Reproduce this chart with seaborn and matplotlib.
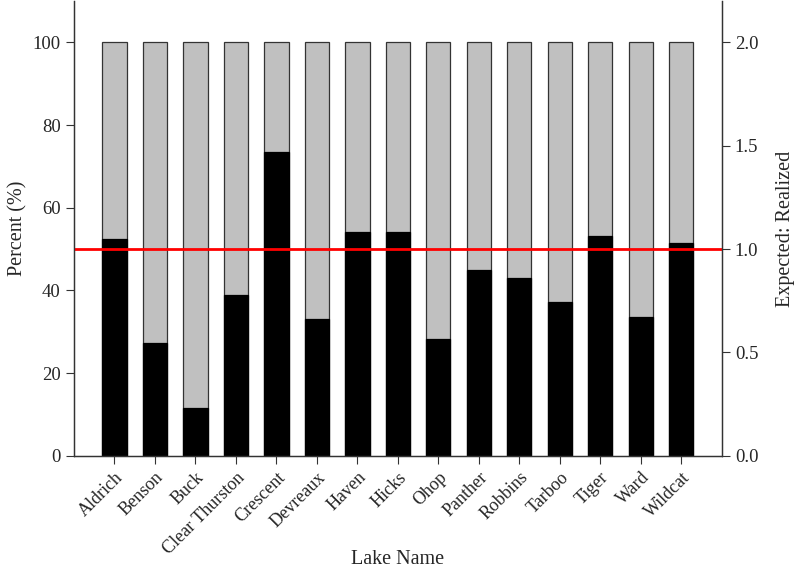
import matplotlib
matplotlib.use("Agg")
import matplotlib.pyplot as plt
import seaborn as sns
import pandas as pd

lakes = ["Aldrich", "Benson", "Buck", "Clear Thurston", "Crescent", "Devreaux",
         "Haven", "Hicks", "Ohop", "Panther", "Robbins", "Tarboo", "Tiger",
         "Ward", "Wildcat"]
realized_pct = [52.4, 27.3, 11.5, 39.0, 73.6, 33.0, 54.2, 54.2, 28.3,
                44.9, 42.9, 37.3, 53.2, 33.5, 51.5]
total_pct = [100] * len(lakes)
expected_realized_ref = 1.0

df = pd.DataFrame({"lake": lakes, "pct": realized_pct, "total": total_pct})

sns.set_style("ticks")
plt.rcParams["font.family"] = ["Liberation Serif", "DejaVu Serif"]

fig = plt.figure(figsize=(7.97, 5.71), dpi=100)
ax = fig.add_axes([74 / 797, 1 - 455.7 / 571, (721.7 - 74) / 797, 454.6 / 571])

sns.barplot(data=df, x="lake", y="total", color="#c0c0c0", saturation=1,
            width=0.6, edgecolor="#333333", linewidth=0.9, ax=ax)
sns.barplot(data=df, x="lake", y="pct", color="black", saturation=1,
            width=0.6, edgecolor="black", linewidth=0.9, ax=ax)

ax.set_xlim(-1, len(lakes))
ax.set_ylim(0, 110)
ax.set_yticks([0, 20, 40, 60, 80, 100])
ax.set_ylabel("Percent (%)", fontsize=14.5)
ax.set_xlabel("Lake Name", fontsize=14.5, labelpad=-5)
ax.tick_params(axis="both", labelsize=13.5, direction="out", length=6, width=0.8, color="#333333")
ax.tick_params(axis="x", labelsize=13)
plt.setp(ax.get_xticklabels(), rotation=45, ha="right", rotation_mode="anchor")
for s in ["left", "bottom", "right"]:
    ax.spines[s].set_color("#333333")
    ax.spines[s].set_linewidth(0.9)
ax.spines["top"].set_visible(False)

ax2 = ax.twinx()
ax2.set_ylim(0, 2.2)
ax2.set_yticks([0.0, 0.5, 1.0, 1.5, 2.0])
ax2.set_yticklabels(["0.0", "0.5", "1.0", "1.5", "2.0"])
ax2.tick_params(axis="y", labelsize=13.5, direction="out", length=6, width=0.8, color="#333333")
ax2.set_ylabel("Expected: Realized", fontsize=14.5, labelpad=13)
ax2.axhline(expected_realized_ref, color="#ff0000", linewidth=2)
for s in ["left", "bottom", "right"]:
    ax2.spines[s].set_color("#333333")
    ax2.spines[s].set_linewidth(0.9)
ax2.spines["top"].set_visible(False)

fig.savefig("out.png", dpi=100)
